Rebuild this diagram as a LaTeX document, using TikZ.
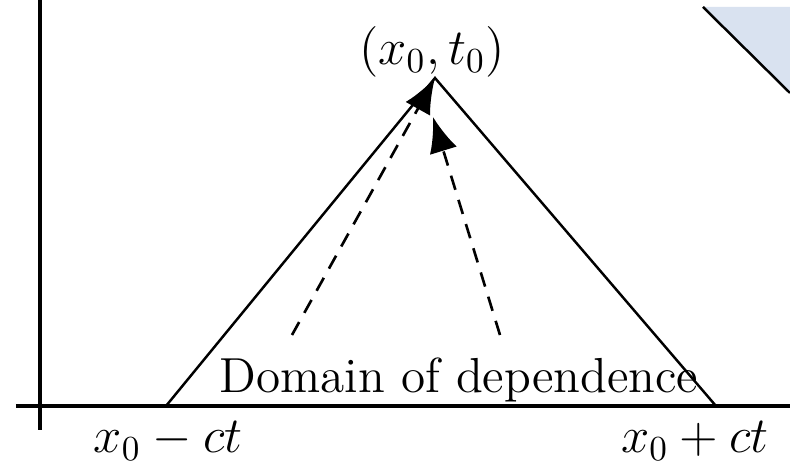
\documentclass[tikz,border=0pt]{standalone}
\usepackage{amsmath,amssymb}
\usepackage{xcolor}
\usepackage{tikz}
\usetikzlibrary{arrows.meta, positioning, calc}

\definecolor{regionblue}{RGB}{217,226,240}

\begin{document}
\begin{tikzpicture}[
    x=0.01cm, y=0.01cm,
    axis/.style={draw, line width=1pt},
    cone/.style={draw, line width=0.7pt},
    line/.style={draw, dashed, dash pattern=on 4.2pt off 3pt, line width=0.75pt,
                 -{Latex[length=10pt, width=8pt]}},
    lbl/.style={font=\fontsize{14}{16}\selectfont, inner sep=0pt}
]
    \useasboundingbox (0,0) rectangle (790,464);

    % shaded region in the corner
    \fill[regionblue] (703,457) -- (790,457) -- (790,371) -- cycle;
    \draw[cone] (703,457) -- (790,371);

    % axes
    \draw[axis] (16,58) -- (790,58);
    \draw[axis] (40,34) -- (40,464);

    % characteristic cone
    \coordinate (apex)  at (435,386);
    \coordinate (left)  at (166,58);
    \coordinate (right) at (716,58);
    \draw[cone] (left) -- (apex) -- (right);

    \node[lbl, anchor=base] (top)   at (432,399) {$(x_0,t_0)$};
    \node[lbl, anchor=base] (lo)    at (168,11)  {$x_0-ct$};
    \node[lbl, anchor=base] (hi)    at (695,11)  {$x_0+ct$};
    \node[lbl, anchor=base] (domain) at (459,71) {Domain of dependence};

    \coordinate (s1) at (292,129);
    \coordinate (s2) at (500,129);
    \coordinate (t2) at (433,347);
    \draw[line] (s1) -- (apex);
    \draw[line] (s2) -- (t2);

\end{tikzpicture}
\end{document}
